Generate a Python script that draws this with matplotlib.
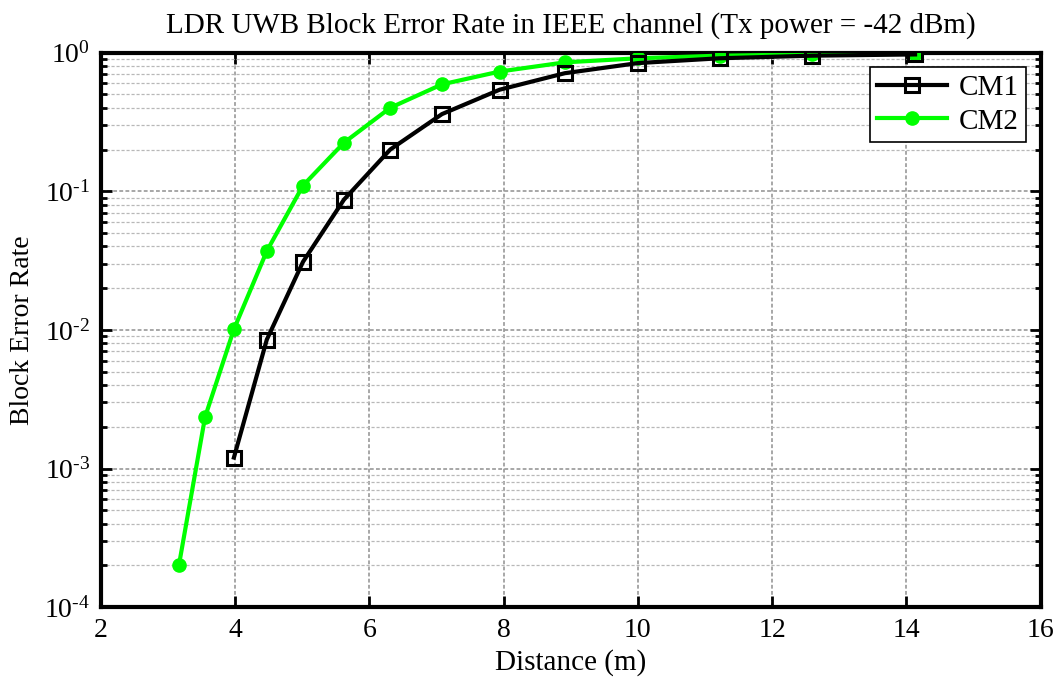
import numpy as np
import matplotlib.pyplot as plt
from matplotlib.ticker import LogLocator, FixedLocator, NullFormatter, FuncFormatter

# distances (m) and block error rates per channel model
dist_cm1 = [3.98, 4.47, 5.01, 5.62, 6.31, 7.08, 7.94, 8.91, 10.0, 11.22, 12.59, 14.13]
bler_cm1 = [1.2e-3, 8.5e-3, 0.031, 0.087, 0.20, 0.36, 0.54, 0.71, 0.84, 0.91, 0.95, 0.97]

dist_cm2 = [3.16, 3.55, 3.98, 4.47, 5.01, 5.62, 6.31, 7.08, 7.94, 8.91, 10.0, 11.22, 12.59, 14.13]
bler_cm2 = [2.0e-4, 2.35e-3, 0.0101, 0.037, 0.11, 0.224, 0.40, 0.59, 0.73, 0.85, 0.91, 0.95, 0.97, 0.98]

x_ticks = [2, 4, 6, 8, 10, 12, 14, 16]

plt.rcParams['font.family'] = ['Liberation Serif', 'DejaVu Serif']
plt.rcParams['mathtext.fontset'] = 'custom'
plt.rcParams['mathtext.rm'] = 'Liberation Serif'

fig = plt.figure(figsize=(10.58, 6.83), dpi=100)
ax = fig.add_axes([0.0955, 0.111, 0.888, 0.812])

ax.semilogy(dist_cm1, bler_cm1, '-s', color='black', lw=3, ms=9.5,
            mfc='none', mec='black', mew=2.2, label='CM1', zorder=4)
ax.semilogy(dist_cm2, bler_cm2, '-o', color='#00ff00', lw=3, ms=9.5,
            mfc='#00ff00', mec='#00ff00', label='CM2', zorder=3)

ax.set_xlim(2, 16)
ax.set_ylim(1e-4, 1)
ax.xaxis.set_major_locator(FixedLocator(x_ticks))
ax.yaxis.set_major_locator(LogLocator(base=10, numticks=10))
ax.yaxis.set_minor_locator(LogLocator(base=10, subs=np.arange(2, 10), numticks=20))
ax.yaxis.set_minor_formatter(NullFormatter())
ax.yaxis.set_major_formatter(
    FuncFormatter(lambda v, p: r'$\mathrm{10^{%s}}$' % ('\\text{-}%d' % -round(np.log10(v))
                                                        if v < 1 else '0')))

ax.grid(True, which='major', axis='both', color='#909090', ls=(0, (2.5, 1.5)), lw=1.1)
ax.grid(True, which='minor', axis='y', color='#b8b8b8', ls=(0, (2.5, 1.5)), lw=0.9)
ax.set_axisbelow(True)

ax.tick_params(which='both', direction='in', top=True, right=True, width=2)
ax.tick_params(which='major', length=8, labelsize=20, pad=8)
ax.tick_params(which='minor', length=4)
for sp in ax.spines.values():
    sp.set_linewidth(3)

ax.set_title('LDR UWB Block Error Rate in IEEE channel (Tx power = -42 dBm)',
             fontsize=21, pad=14)
ax.set_xlabel('Distance (m)', fontsize=21, labelpad=4)
ax.set_ylabel('Block Error Rate', fontsize=20)
ax.yaxis.set_label_coords(-0.07, 0.5)

leg = ax.legend(loc='upper right', fontsize=21, fancybox=False, framealpha=1,
                edgecolor='black', handlelength=2.4, handletextpad=0.4,
                borderaxespad=0.5, borderpad=0.25, labelspacing=0.25)
leg.get_frame().set_linewidth(1.2)

fig.savefig('out.png', dpi=100)
